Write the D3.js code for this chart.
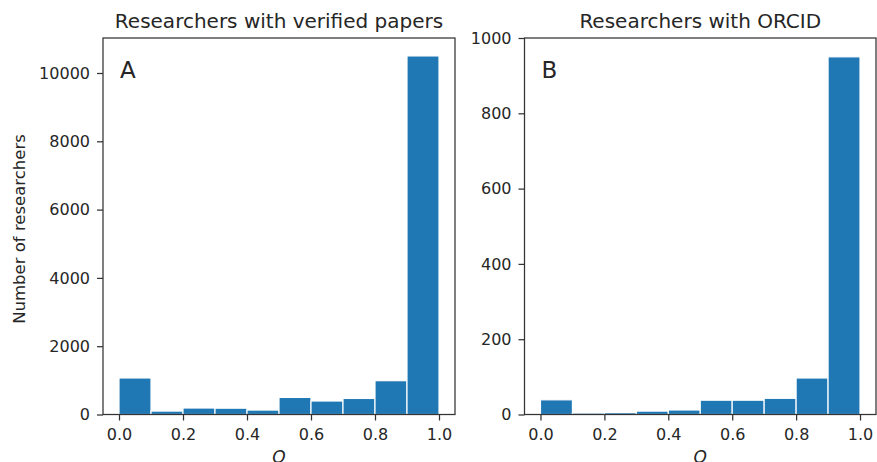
<!DOCTYPE html>
<html><head><meta charset="utf-8">
<script src="https://cdn.jsdelivr.net/npm/d3@7"></script>
<style>body{margin:0;background:#fff}svg{display:block}text{font-family:"DejaVu Sans",sans-serif;fill:#262626}</style>
</head><body>
<script>
const binEdges = [0,0.1,0.2,0.3,0.4,0.5,0.6,0.7,0.8,0.9,1.0];
const verifiedCounts = [1070,100,190,185,130,500,395,470,990,10500];
const orcidCounts = [39,4,5,9,12,38,38,43,97,950];
const xTicks = [0,0.2,0.4,0.6,0.8,1.0];
const verifiedTicks = [0,2000,4000,6000,8000,10000];
const orcidTicks = [0,200,400,600,800,1000];
const titles = ["Researchers with verified papers","Researchers with ORCID"];
const panelLabels = ["A","B"];

(function(){
const W=877,H=462;
const svg=d3.select("body").append("svg").attr("width",W).attr("height",H);
const panels=[
 {x0:103,x1:455,counts:verifiedCounts,ticks:verifiedTicks,ymax:10500*1.05},
 {x0:524.5,x1:876,counts:orcidCounts,ticks:orcidTicks,ymax:1000}
];
const yTop=38,yBot=414.5;
panels.forEach((p,i)=>{
  const x=d3.scaleLinear().domain([-0.05,1.05]).range([p.x0,p.x1]);
  const y=d3.scaleLinear().domain([0,p.ymax]).range([yBot,yTop]);
  const g=svg.append("g");
  const data=p.counts.map((c,k)=>({a:binEdges[k],b:binEdges[k+1],c}));
  g.selectAll("rect").data(data).join("rect")
   .attr("x",d=>x(d.a)).attr("width",d=>x(d.b)-x(d.a))
   .attr("y",d=>y(d.c)).attr("height",d=>y(0)-y(d.c))
   .attr("fill","#1f77b4").attr("stroke","#fff").attr("stroke-width",1.2);
  g.append("rect").attr("x",p.x0).attr("y",yTop).attr("width",p.x1-p.x0).attr("height",yBot-yTop)
   .attr("fill","none").attr("stroke","#333").attr("stroke-width",1.25);
  const xa=g.append("g").attr("transform",`translate(0,${yBot})`)
   .call(d3.axisBottom(x).tickValues(xTicks).tickFormat(d3.format(".1f")).tickSize(6).tickPadding(8));
  const ya=g.append("g").attr("transform",`translate(${p.x0},0)`)
   .call(d3.axisLeft(y).tickValues(p.ticks).tickSize(6).tickPadding(7).tickFormat(d3.format("d")));
  [xa,ya].forEach(a=>{a.select(".domain").remove();a.selectAll("line").attr("stroke","#333").attr("stroke-width",1.25);
    a.selectAll("text").attr("fill","#262626").style("font-size","16px").style("font-family","DejaVu Sans");});
  g.append("text").attr("x",(p.x0+p.x1)/2).attr("y",28).attr("text-anchor","middle")
   .style("font-size","20px").text(titles[i]);
  g.append("text").attr("x",x(0.5)).attr("y",463).attr("text-anchor","middle")
   .style("font-size","17px").style("font-style","italic").text("Q");
  g.append("text").attr("x",p.x0+17).attr("y",78).style("font-size","23px").text(panelLabels[i]);
});
svg.append("text").attr("transform","translate(25,229) rotate(-90)").attr("text-anchor","middle")
 .style("font-size","16.5px").text("Number of researchers");
})();
</script>
</body></html>
